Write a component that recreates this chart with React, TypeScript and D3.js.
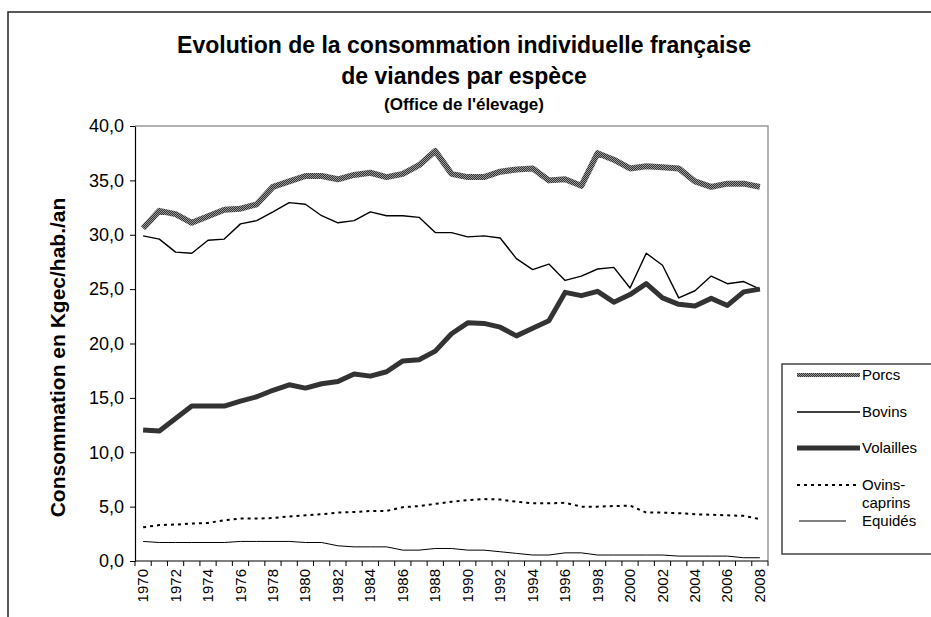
import { useEffect, useRef } from 'react';
import * as d3 from 'd3';

const years = [
	1970, 1971, 1972, 1973, 1974, 1975, 1976, 1977, 1978, 1979,
	1980, 1981, 1982, 1983, 1984, 1985, 1986, 1987, 1988, 1989,
	1990, 1991, 1992, 1993, 1994, 1995, 1996, 1997, 1998, 1999,
	2000, 2001, 2002, 2003, 2004, 2005, 2006, 2007, 2008,
];

const porcs = [
	30.6, 32.2, 31.9, 31.1, 31.7, 32.3, 32.4, 32.8, 34.4, 34.9,
	35.4, 35.4, 35.1, 35.5, 35.7, 35.3, 35.6, 36.4, 37.7, 35.6,
	35.3, 35.3, 35.8, 36.0, 36.1, 35.0, 35.1, 34.5, 37.5, 36.9,
	36.1, 36.3, 36.2, 36.1, 34.9, 34.4, 34.7, 34.7, 34.4,
];
const bovins = [
	29.9, 29.6, 28.4, 28.3, 29.5, 29.6, 31.0, 31.3, 32.1, 32.95,
	32.8, 31.75, 31.1, 31.3, 32.1, 31.75, 31.75, 31.6, 30.2, 30.2,
	29.8, 29.9, 29.7, 27.8, 26.8, 27.3, 25.8, 26.2, 26.85, 27.0,
	25.1, 28.3, 27.2, 24.2, 24.85, 26.2, 25.5, 25.7, 25.0,
];
const volailles = [
	12.05, 11.95, 13.1, 14.25, 14.25, 14.25, 14.7, 15.1, 15.7, 16.2,
	15.9, 16.3, 16.5, 17.2, 17.0, 17.4, 18.4, 18.5, 19.3, 20.9,
	21.9, 21.85, 21.5, 20.7, 21.4, 22.1, 24.7, 24.4, 24.8, 23.8,
	24.5, 25.5, 24.2, 23.6, 23.45, 24.15, 23.5, 24.75, 25.0,
];
const ovinsCaprins = [
	3.1, 3.3, 3.35, 3.45, 3.5, 3.75, 3.9, 3.9, 3.95, 4.1,
	4.2, 4.3, 4.45, 4.5, 4.6, 4.6, 4.95, 5.05, 5.25, 5.45,
	5.6, 5.7, 5.65, 5.45, 5.3, 5.3, 5.35, 5.0, 5.0, 5.05,
	5.1, 4.45, 4.45, 4.4, 4.3, 4.25, 4.2, 4.15, 3.85,
];
const equides = [
	1.8, 1.7, 1.7, 1.7, 1.7, 1.7, 1.8, 1.8, 1.8, 1.8,
	1.7, 1.7, 1.4, 1.3, 1.3, 1.3, 1.0, 1.0, 1.15, 1.15,
	1.0, 1.0, 0.85, 0.7, 0.55, 0.55, 0.75, 0.75, 0.55, 0.55,
	0.55, 0.55, 0.55, 0.45, 0.45, 0.45, 0.45, 0.3, 0.3,
];

const yTicks = [0, 5, 10, 15, 20, 25, 30, 35, 40];
const titleLines = ['Evolution de la consommation individuelle française', 'de viandes par espèce'];
const subtitle = "(Office de l'élevage)";
const yTitle = 'Consommation en Kgec/hab./an';

const FONT = '"Liberation Sans", Arial, sans-serif';

type Series = {
	name: string[]
	values: number[]
	stroke: string
	width: number
	dash?: string
}

const series: Series[] = [
	{name: ['Porcs'], values: porcs, stroke: 'url(#checker)', width: 6},
	{name: ['Bovins'], values: bovins, stroke: '#000', width: 1.4},
	{name: ['Volailles'], values: volailles, stroke: '#333', width: 5},
	{name: ['Ovins-', 'caprins'], values: ovinsCaprins, stroke: '#000', width: 2, dash: '3,4'},
	{name: ['Equidés'], values: equides, stroke: '#000', width: 1},
];

export default function App() {
	const ref = useRef<SVGSVGElement>(null);

	useEffect(() => {
		const width = 931;
		const height = 617;
		const margin = {top: 126, right: 163, bottom: 56, left: 135};

		const svg = d3.select(ref.current);
		svg.selectAll('*').remove();

		const defs = svg.append('defs');
		const pat = defs.append('pattern')
			.attr('id', 'checker')
			.attr('patternUnits', 'userSpaceOnUse')
			.attr('width', 2)
			.attr('height', 2);
		pat.append('rect').attr('width', 2).attr('height', 2).attr('fill', '#333');
		pat.append('rect').attr('width', 1).attr('height', 1).attr('fill', '#9a9a9a');
		pat.append('rect').attr('x', 1).attr('y', 1).attr('width', 1).attr('height', 1).attr('fill', '#9a9a9a');

		svg.append('rect').attr('width', width).attr('height', height).attr('fill', '#fff');

		// outer chart frame
		svg.append('rect')
			.attr('x', 8).attr('y', 12)
			.attr('width', 1000).attr('height', 700)
			.attr('fill', 'none').attr('stroke', '#222').attr('stroke-width', 1.5);

		const x = d3.scaleBand<number>()
			.domain(years)
			.range([margin.left, width - margin.right]);
		const cx = (yr: number) => (x(yr) as number) + x.bandwidth() / 2;

		const y = d3.scaleLinear()
			.domain([0, 40])
			.range([height - margin.bottom, margin.top]);

		// plot area border
		svg.append('path')
			.attr('d', `M${margin.left},${y(40)}H${width - margin.right}V${y(0)}`)
			.attr('fill', 'none').attr('stroke', '#999').attr('stroke-width', 1.5);

		// titles
		svg.append('g')
			.attr('font-family', FONT).attr('font-weight', 'bold').attr('text-anchor', 'middle')
			.selectAll('text')
			.data(titleLines)
			.join('text')
			.attr('x', 464)
			.attr('y', (d, i) => 53 + i * 31)
			.attr('font-size', 23)
			.text(d => d);
		svg.append('text')
			.attr('x', 464).attr('y', 110)
			.attr('font-family', FONT).attr('font-weight', 'bold').attr('text-anchor', 'middle')
			.attr('font-size', 17)
			.text(subtitle);

		svg.append('text')
			.attr('transform', `translate(65,${(y(0) + y(40)) / 2 + 14}) rotate(-90)`)
			.attr('font-family', FONT).attr('font-weight', 'bold').attr('text-anchor', 'middle')
			.attr('font-size', 21)
			.text(yTitle);

		// y axis
		const yAxis = svg.append('g')
			.attr('transform', `translate(${margin.left},0)`)
			.call(d3.axisLeft(y)
				.tickValues(yTicks)
				.tickSize(5)
				.tickSizeOuter(0)
				.tickFormat(d => (d as number).toFixed(1).replace('.', ',')));
		yAxis.selectAll('text')
			.attr('font-family', FONT).attr('font-size', 18).attr('fill', '#000').attr('x', -11);
		yAxis.selectAll('line').attr('stroke', '#000');
		yAxis.select('.domain').attr('stroke', '#000').attr('stroke-width', 1.2);

		// x axis (category ticks between years)
		const xg = svg.append('g');
		xg.append('line')
			.attr('x1', margin.left).attr('x2', width - margin.right)
			.attr('y1', y(0)).attr('y2', y(0))
			.attr('stroke', '#000').attr('stroke-width', 1.2);
		xg.selectAll('line.tick')
			.data([...years.map(yr => x(yr) as number), width - margin.right])
			.join('line')
			.attr('class', 'tick')
			.attr('x1', d => d).attr('x2', d => d)
			.attr('y1', y(0)).attr('y2', y(0) + 5)
			.attr('stroke', '#000');
		xg.selectAll('text')
			.data(years.filter(yr => yr % 2 === 0))
			.join('text')
			.attr('transform', d => `translate(${cx(d) + 5},${y(0) + 8}) rotate(-90)`)
			.attr('text-anchor', 'end')
			.attr('font-family', FONT).attr('font-size', 15)
			.text(d => d);

		// lines
		const line = d3.line<number>()
			.x((d, i) => cx(years[i]))
			.y(d => y(d));

		svg.append('g')
			.selectAll('path')
			.data(series)
			.join('path')
			.attr('d', d => line(d.values))
			.attr('fill', 'none')
			.attr('stroke', d => d.stroke)
			.attr('stroke-width', d => d.width)
			.attr('stroke-dasharray', d => d.dash ?? null)
			.attr('stroke-linejoin', 'round');

		// legend
		const lg = svg.append('g');
		lg.append('rect')
			.attr('x', 782).attr('y', 364)
			.attr('width', 200).attr('height', 190)
			.attr('fill', '#fff').attr('stroke', '#444').attr('stroke-width', 1.5);
		const legendY = [375, 412, 448, 485, 521];
		const item = lg.selectAll('g')
			.data(series)
			.join('g')
			.attr('transform', (d, i) => `translate(0,${legendY[i]})`);
		item.append('line')
			.attr('x1', (d, i) => i === 4 ? 799 : 797)
			.attr('x2', (d, i) => i === 4 ? 846 : 860)
			.attr('stroke', d => d.stroke)
			.attr('stroke-width', (d, i) => i === 0 ? 4 : d.width)
			.attr('stroke-dasharray', d => d.dash ?? null);
		item.append('text')
			.attr('font-family', FONT).attr('font-size', 15)
			.selectAll('tspan')
			.data(d => d.name)
			.join('tspan')
			.attr('x', 862)
			.attr('y', (d, i) => i * 18)
			.attr('dy', '0.35em')
			.text(d => d);
	}, []);

	return (
		<svg
			ref={ref}
			width={931}
			height={617}
			style={{position: 'absolute', left: 0, top: 0, display: 'block'}}
		/>
	);
}
